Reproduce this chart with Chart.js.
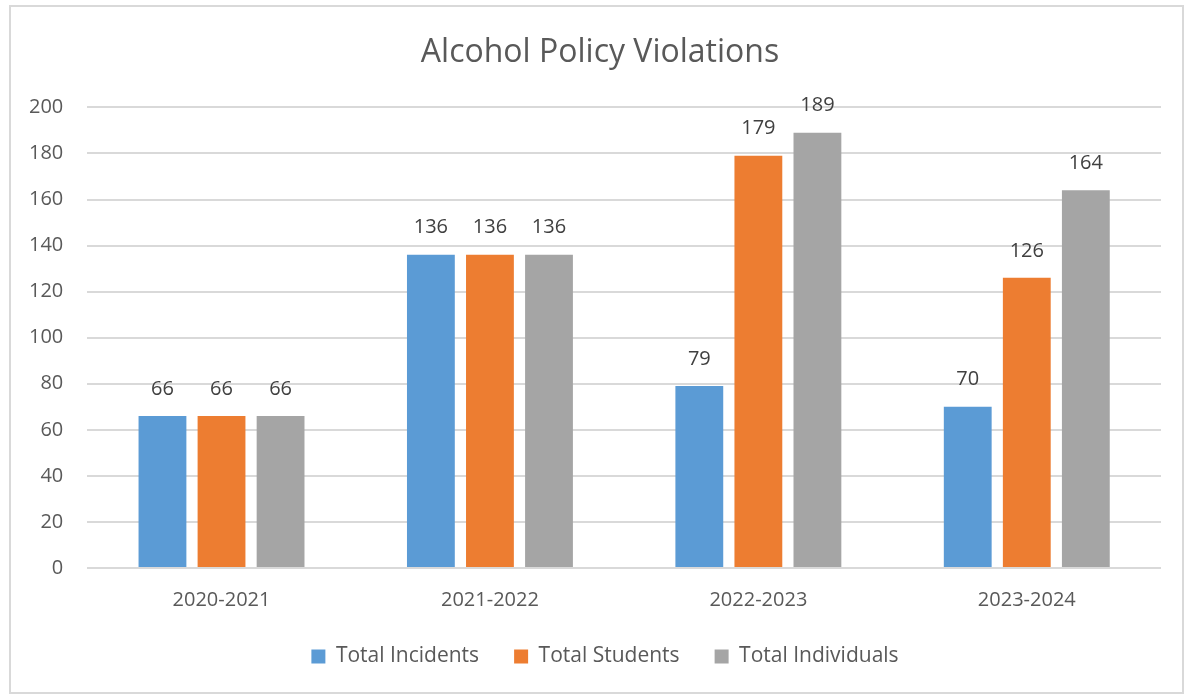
<!DOCTYPE html>
<html>
<head>
<meta charset="utf-8">
<script src="https://cdn.jsdelivr.net/npm/chart.js@4"></script>
<style>
  body { margin: 0; background: #fff; }
  #box {
    position: absolute;
    left: 9px;
    top: 5px;
    width: 1171px;
    height: 685px;
    border: 2px solid #d9d9d9;
    background: #fff;
  }
</style>
</head>
<body>
<div id="box"><canvas id="myChart" width="1171" height="685"></canvas></div>
<script>
const years = ["2020-2021", "2021-2022", "2022-2023", "2023-2024"];
const totalIncidents = [66, 136, 79, 70];
const totalStudents = [66, 136, 179, 126];
const totalIndividuals = [66, 136, 189, 164];

const ctx = document.getElementById("myChart");
const textColor = "#595959";
const fontName = "'Open Sans', sans-serif";

// draws the value above each bar
const valueLabels = {
  id: "valueLabels",
  afterDatasetsDraw(chart) {
    const c = chart.ctx;
    c.save();
    c.font = "20px " + fontName;
    c.fillStyle = "#404040";
    c.textAlign = "center";
    c.textBaseline = "middle";
    chart.data.datasets.forEach((ds, i) => {
      chart.getDatasetMeta(i).data.forEach((bar, j) => {
        c.fillText(ds.data[j], bar.x, bar.y - 27);
      });
    });
    c.restore();
  },
};

// title and legend sit centred on the whole box, not on the padded area
const centerBoxes = {
  id: "centerBoxes",
  afterLayout(chart) {
    chart.titleBlock.left += 17;
    chart.titleBlock.right += 17;
    chart.legend.left += 22;
    chart.legend.right += 22;
  },
};

new Chart(ctx, {
  type: "bar",
  data: {
    labels: years,
    datasets: [
      {
        label: "Total Incidents",
        data: totalIncidents,
        backgroundColor: "#5b9bd5",
      },
      {
        label: "Total Students",
        data: totalStudents,
        backgroundColor: "#ed7d31",
      },
      {
        label: "Total Individuals",
        data: totalIndividuals,
        backgroundColor: "#a5a5a5",
      },
    ],
  },
  options: {
    responsive: false,
    animation: false,
    categoryPercentage: 0.66,
    barPercentage: 0.81,
    layout: {
      padding: { left: -6, right: 21, top: 0, bottom: 15 },
    },
    scales: {
      x: {
        grid: { display: false },
        border: { display: false },
        ticks: {
          color: textColor,
          font: { family: fontName, size: 20 },
          padding: 12,
        },
        // legend spacing is wide, so take that room back from the axis box
        afterFit: (scale) => {
          scale.height -= 13;
        },
      },
      y: {
        min: 0,
        max: 200,
        ticks: {
          stepSize: 20,
          color: textColor,
          font: { family: fontName, size: 20 },
          padding: 24,
        },
        grid: { color: "#d9d9d9", lineWidth: 2, drawTicks: false },
        border: { display: false },
      },
    },
    plugins: {
      title: {
        display: true,
        text: "Alcohol Policy Violations",
        color: textColor,
        font: { family: fontName, size: 32, weight: "normal" },
        padding: { top: 27, bottom: 35 },
      },
      legend: {
        position: "bottom",
        labels: {
          color: textColor,
          font: { family: fontName, size: 21 },
          boxWidth: 14,
          boxHeight: 14,
          padding: 35,
        },
      },
      tooltip: { enabled: false },
    },
  },
  plugins: [valueLabels, centerBoxes],
});
</script>
</body>
</html>
